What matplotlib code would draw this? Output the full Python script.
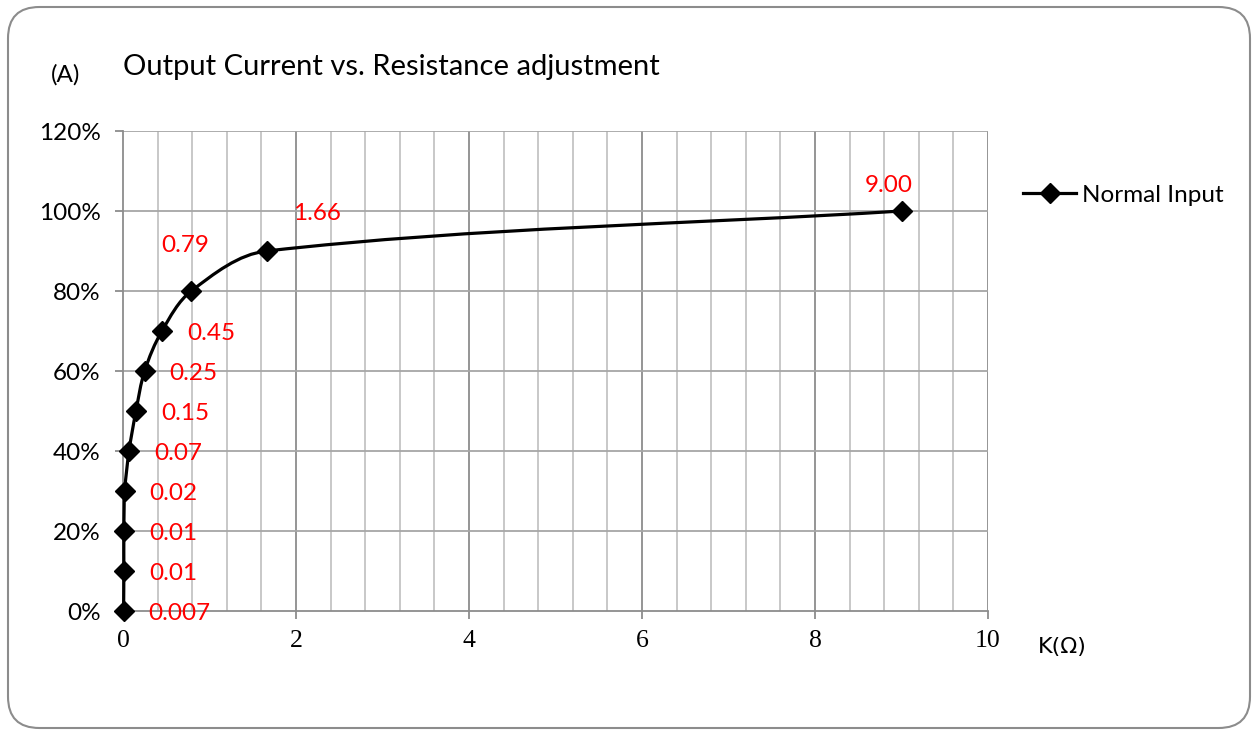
import numpy as np
import matplotlib
matplotlib.use("Agg")
import matplotlib.pyplot as plt
from matplotlib.path import Path
from matplotlib.patches import PathPatch, FancyBboxPatch
from matplotlib.lines import Line2D

# resistance (kOhm) vs output current (%)
resistance = [0.007, 0.01, 0.01, 0.02, 0.07, 0.15, 0.25, 0.45, 0.79, 1.66, 9.00]
current = [0, 10, 20, 30, 40, 50, 60, 70, 80, 90, 100]
labels = ["0.007", "0.01", "0.01", "0.02", "0.07", "0.15", "0.25", "0.45", "0.79", "1.66", "9.00"]
series_name = "Normal Input"

# label offsets in pixels (dx, dy, ha)
offsets = [(25, -3, "left")] * 8 + [(-6, 45, "center"), (26, 38, "left"), (-13, 26, "center")]

sans = "Lato"
fig = plt.figure(figsize=(12.57, 7.35), dpi=100)
ax = fig.add_axes([123 / 1257, 1 - 611 / 735, 865 / 1257, 480 / 735])
ax.set_xlim(0, 10)
ax.set_ylim(0, 120)

# grid
for x in np.arange(0.4, 10, 0.4):
    if abs(x / 2 - round(x / 2)) < 1e-6:
        continue
    ax.axvline(x, color="#c4c4c4", lw=1.3, zorder=0)
for x in [2, 4, 6, 8, 10]:
    ax.axvline(x, color="#8c8c8c", lw=1.3, zorder=0)
for y in range(20, 121, 20):
    ax.axhline(y, color="#a6a6a6", lw=1.3, zorder=0)
for s in ["top", "right"]:
    ax.spines[s].set_visible(False)
ax.spines["left"].set_color("#8c8c8c")
ax.spines["bottom"].set_color("#8c8c8c")
ax.spines["left"].set_linewidth(1.3)
ax.spines["bottom"].set_linewidth(1.3)

ax.set_xticks([0, 2, 4, 6, 8, 10])
ax.set_xticklabels(["0", "2", "4", "6", "8", "10"], fontfamily="Liberation Serif", fontsize=18.5)
ax.set_yticks(range(0, 121, 20))
ax.set_yticklabels([f"{v}%" for v in range(0, 121, 20)], fontfamily=sans, fontsize=17.5)
ax.tick_params(axis="x", length=6, width=1.3, color="#8c8c8c", pad=8)
ax.tick_params(axis="y", length=6, width=1.3, color="#8c8c8c", pad=10)

# smoothed line (bezier through the points, computed in pixel space)
pts = ax.transData.transform(np.column_stack([resistance, current]))
verts = [pts[0]]
codes = [Path.MOVETO]
n = len(pts)


def unit(v):
    d = np.hypot(*v)
    return v / d if d > 0 else v


for i in range(n - 1):
    p0 = pts[i - 1] if i > 0 else pts[i]
    p1 = pts[i]
    p2 = pts[i + 1]
    p3 = pts[i + 2] if i + 2 < n else pts[i + 1]
    seg = np.hypot(*(p2 - p1))
    c1 = p1 + unit(p2 - p0) * seg / 3
    c2 = p2 - unit(p3 - p1) * seg / 3
    verts += [c1, c2, p2]
    codes += [Path.CURVE4] * 3
verts = ax.transData.inverted().transform(np.array(verts))
ax.add_patch(PathPatch(Path(verts, codes), fill=False, edgecolor="black", lw=2.3, zorder=3, clip_on=False))
ax.plot(resistance, current, linestyle="none", marker="D", color="black", markersize=10.5, zorder=4, clip_on=False)

for x, y, t, (dx, dy, ha) in zip(resistance, current, labels, offsets):
    ax.annotate(t, (x, y), xytext=(dx, dy), textcoords="offset pixels", ha=ha, va="center",
                color="red", fontsize=17.5, fontfamily=sans, zorder=5)

# titles
fig.text(123 / 1257, 1 - 67 / 735, "Output Current vs. Resistance adjustment", fontsize=21,
         fontfamily=sans, va="center", ha="left")
fig.text(66 / 1257, 1 - 75 / 735, "(A)", fontsize=17.5, fontfamily=sans, va="center", ha="center")
fig.text(1062 / 1257, 1 - 647 / 735, "K(\u03a9)", fontsize=16, fontfamily="DejaVu Sans", va="center", ha="center")

# legend
handle = Line2D([], [], color="black", lw=2.3, marker="D", markersize=10.5)
fig.legend([handle], [series_name], loc="center left", bbox_to_anchor=(1001 / 1257, 1 - 195 / 735),
           frameon=False, prop={"family": sans, "size": 17.5}, handlelength=2.2, handletextpad=0.25)

# outer rounded border
fig.patches.append(FancyBboxPatch((8 / 1257, 7 / 735), 1242 / 1257, 721 / 735,
                                  boxstyle="round,pad=0,rounding_size=0.025", transform=fig.transFigure,
                                  fill=False, edgecolor="#8c8c8c", lw=1.5, mutation_aspect=1257 / 735))

fig.savefig("out.png", dpi=100)
